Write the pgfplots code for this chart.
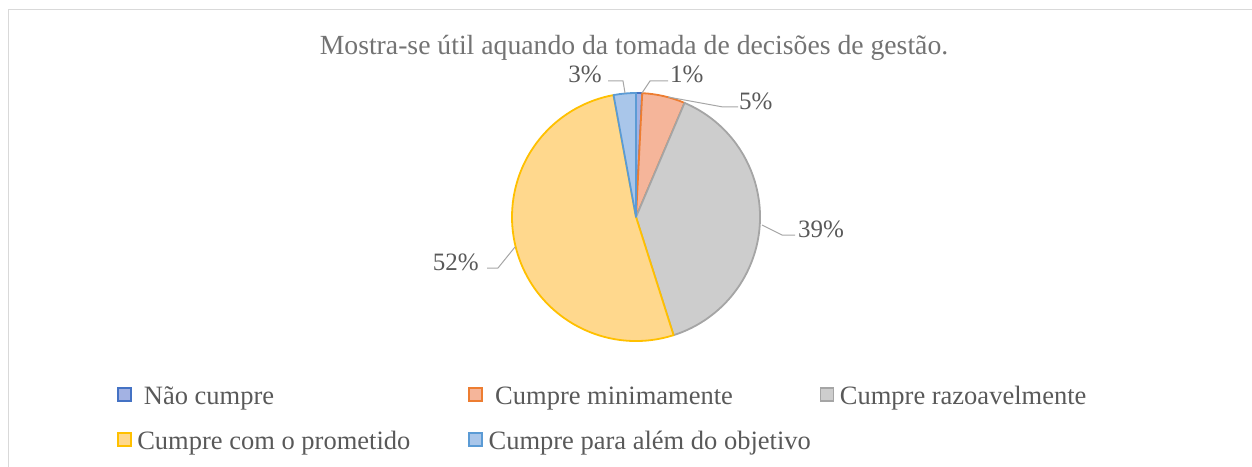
\documentclass[border=0pt]{standalone}
\usepackage{pgfplots}
\usepackage{pgfplotstable}
\pgfplotsset{compat=1.18}
\usepackage{fontspec}
\setmainfont{Liberation Serif}

\definecolor{c0}{HTML}{4472C4}
\definecolor{c1}{HTML}{ED7D31}
\definecolor{c2}{HTML}{A5A5A5}
\definecolor{c3}{HTML}{FFC000}
\definecolor{c4}{HTML}{5B9BD5}
\definecolor{f0}{HTML}{A3B2E3}
\definecolor{f1}{HTML}{F5B59A}
\definecolor{f2}{HTML}{CDCDCD}
\definecolor{f3}{HTML}{FFD88D}
\definecolor{f4}{HTML}{A9C6EA}
\definecolor{txt}{HTML}{595959}
\definecolor{ttl}{HTML}{737373}
\definecolor{lead}{HTML}{A6A6A6}
\definecolor{framec}{HTML}{D9D9D9}

\pgfplotstableread{
value
0.8
5.6
38.7
52.0
2.9
}\piedata
\pgfplotstablecreatecol[create col/expr accum={\pgfmathaccuma + \thisrow{value}}{0}]{cum}\piedata

\newcommand\lfont{\fontsize{25bp}{28bp}\selectfont}
\newcommand\legfont{\fontsize{26.5bp}{30bp}\selectfont}

\begin{document}
\begin{tikzpicture}
\begin{axis}[
  scale only axis, width=1252bp, height=467bp,
  xmin=0, xmax=1252, ymin=0, ymax=467, y dir=reverse,
  hide axis, clip=false,
  legend columns=3,
  legend cell align=left,
  legend style={at={(axis cs:117,417)}, anchor=west, draw=none, fill=none,
    inner sep=0pt, outer sep=0pt, column sep=0pt, row sep=20bp,
    font=\legfont, text=txt, nodes={inner sep=1bp}},
  legend image code/.code={\draw[#1, line width=1.6bp] (0.5bp,-6.5bp) rectangle (13.5bp,6.5bp);
     \path[draw=none, fill=none] (0bp,0bp) -- (19bp,0bp);},
]
\pgfplotsinvokeforeach{0,...,4}{
  \pgfplotstablegetelem{#1}{value}\of\piedata \let\val\pgfplotsretval
  \pgfplotstablegetelem{#1}{cum}\of\piedata \let\cum\pgfplotsretval
  \pgfmathsetmacro\angA{90-3.6*(\cum-\val)}
  \pgfmathsetmacro\angB{90-3.6*\cum}
  \edef\temp{\noexpand\filldraw[fill=f#1, draw=c#1, line width=1.8bp, line join=round]
    (axis cs:636,217) -- ++(\angA:124bp) arc[start angle=\angA, end angle=\angB, radius=124bp] -- cycle;}
  \temp
}
\addlegendimage{fill=f0, draw=c0}
\addlegendentry{\makebox[330bp][l]{\strut\ Não cumpre}}
\addlegendimage{fill=f1, draw=c1}
\addlegendentry{\makebox[330bp][l]{\strut\ Cumpre minimamente}}
\addlegendimage{fill=f2, draw=c2}
\addlegendentry{\strut Cumpre razoavelmente}
\addlegendimage{fill=f3, draw=c3}
\addlegendentry{\makebox[330bp][l]{\strut Cumpre com o prometido}}
\addlegendimage{fill=f4, draw=c4}
\addlegendentry{\makebox[330bp][l]{\strut Cumpre para além do objetivo}}

% leader lines and data labels
\draw[lead, line width=1bp] (axis cs:642,93) -- (axis cs:650,81) -- (axis cs:668,81);
\node[anchor=west, inner sep=0pt, text=txt, font=\lfont] at (axis cs:670,74) {1\%};
\draw[lead, line width=1bp] (axis cs:668,97) -- (axis cs:723,107) -- (axis cs:738,107);
\node[anchor=west, inner sep=0pt, text=txt, font=\lfont] at (axis cs:739,101) {5\%};
\draw[lead, line width=1bp] (axis cs:762,225) -- (axis cs:782,235) -- (axis cs:795,235);
\node[anchor=west, inner sep=0pt, text=txt, font=\lfont] at (axis cs:798,229) {39\%};
\draw[lead, line width=1bp] (axis cs:515,247) -- (axis cs:498,268) -- (axis cs:487,268);
\node[anchor=east, inner sep=0pt, text=txt, font=\lfont] at (axis cs:479,262) {52\%};
\draw[lead, line width=1bp] (axis cs:625,93) -- (axis cs:623,81) -- (axis cs:608,81);
\node[anchor=east, inner sep=0pt, text=txt, font=\lfont] at (axis cs:602,74) {3\%};

% title
\node[inner sep=0pt, text=ttl, font=\fontsize{27.7bp}{31bp}\selectfont] at (axis cs:634,48)
  {Mostra-se útil aquando da tomada de decisões de gestão.};

% chart frame
\draw[framec, line width=1.5bp] (axis cs:8.5,467) -- (axis cs:8.5,9.5) -- (axis cs:1252,9.5);
\end{axis}
\pgfresetboundingbox
\path (0,0) rectangle (1252bp,467bp);
\end{tikzpicture}
\end{document}
